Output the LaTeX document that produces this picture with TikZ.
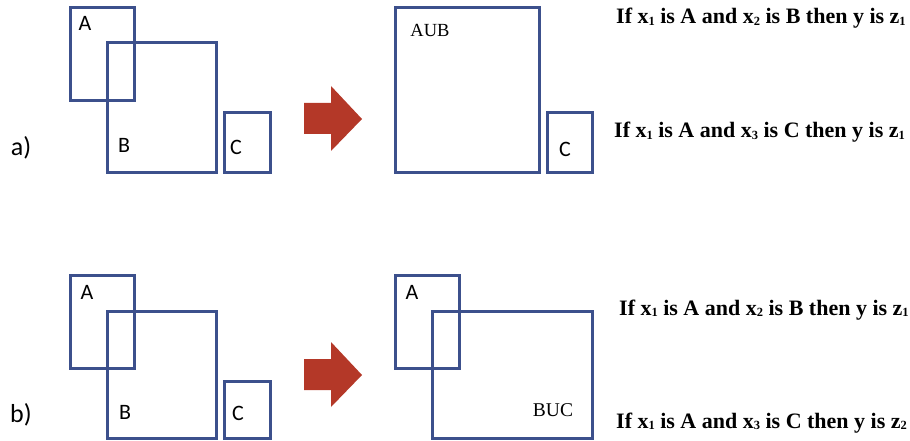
\documentclass[tikz,border=0pt]{standalone}
\usepackage{fontspec}
\setmainfont{Liberation Serif}
\newfontfamily\lab{Carlito}
\definecolor{boxblue}{RGB}{60,80,140}
\definecolor{arrred}{RGB}{180,56,40}
\newcommand{\sbs}[1]{\raisebox{-1.5pt}{\fontsize{12.5}{12.5}\selectfont #1}}
\begin{document}
\begin{tikzpicture}[x=1pt,y=-1pt,
  box/.style={draw=boxblue,line width=3pt,inner sep=0pt,fill=none},
  slab/.style={inner sep=0pt,font=\lab\fontsize{22}{22}\selectfont},
  plab/.style={inner sep=0pt,font=\lab\fontsize{26}{26}\selectfont},
  tlab/.style={inner sep=0pt,font=\fontsize{18.5}{18.5}\selectfont},
  rule/.style={inner sep=0pt,anchor=base west,font=\bfseries\fontsize{22}{23}\selectfont},
  bigarrow/.style={fill=arrred,draw=none}]
\useasboundingbox (0,0) rectangle (910,441);
% ---------- a) ----------
\node[box,minimum width=64pt,minimum height=93pt] (aA) at (102,54.5) {};
\node[box,minimum width=109pt,minimum height=129pt] (aB) at (161.5,107.5) {};
\node[box,minimum width=46pt,minimum height=59pt] (aC) at (247,142.5) {};
\node[slab] (laA) at (85,23) {A};
\node[slab] (laB) at (124,145) {B};
\node[slab] (laC) at (236,147) {C};
\node[plab] (la) at (21,148) {a)};
\fill[bigarrow] (304,103) -- (331,103) -- (331,86) -- (362,119) -- (331,151) -- (331,134) -- (304,134) -- cycle;
\node[box,minimum width=144pt,minimum height=164pt] (aAUB) at (467,90) {};
\node[box,minimum width=45pt,minimum height=59pt] (aC2) at (569.5,142.5) {};
\node[tlab] (laAUB) at (430,30) {AUB};
\node[slab] (laC2) at (565,149) {C};
\node[rule] (ar1) at (616,24) {If x\sbs{1} is A and x\sbs{2} is B then y is z\sbs{1}};
\node[rule] (ar2) at (614,138) {If x\sbs{1} is A and x\sbs{3} is C then y is z\sbs{1}};
% ---------- b) ----------
\node[box,minimum width=64pt,minimum height=93pt] (bA) at (102,321.5) {};
\node[box,minimum width=109pt,minimum height=127pt] (bB) at (161.5,374.5) {};
\node[box,minimum width=46pt,minimum height=57pt] (bC) at (247,409.5) {};
\node[slab] (lbA) at (87,292) {A};
\node[slab] (lbB) at (125,412) {B};
\node[slab] (lbC) at (238,413) {C};
\node[plab] (lb) at (21,415) {b)};
\fill[bigarrow] (304,359) -- (331,359) -- (331,342) -- (362,375) -- (331,407) -- (331,390) -- (304,390) -- cycle;
\node[box,minimum width=64pt,minimum height=93pt] (bA2) at (427,321.5) {};
\node[box,minimum width=160pt,minimum height=127pt] (bBUC) at (512,374.5) {};
\node[slab] (lbA2) at (412,292) {A};
\node[tlab,font=\fontsize{19.5}{19.5}\selectfont] (lbBUC) at (553,410) {BUC};
\node[rule] (br1) at (619,315) {If x\sbs{1} is A and x\sbs{2} is B then y is z\sbs{1}};
\node[rule] (br2) at (616,428) {If x\sbs{1} is A and x\sbs{3} is C then y is z\sbs{2}};
\end{tikzpicture}
\end{document}
